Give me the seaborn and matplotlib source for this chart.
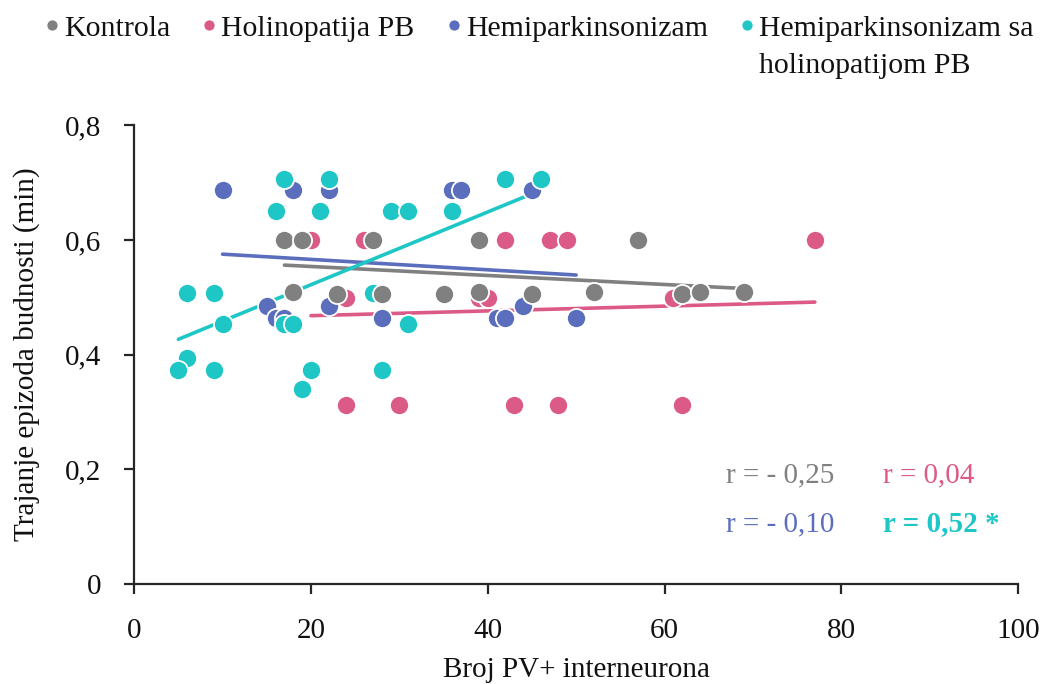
import numpy as np
import pandas as pd
import matplotlib
matplotlib.use("Agg")
import matplotlib.pyplot as plt
from matplotlib.lines import Line2D
from matplotlib.ticker import FuncFormatter
import seaborn as sns

# Group names
groups = ["Kontrola", "Holinopatija PB", "Hemiparkinsonizam",
          "Hemiparkinsonizam sa holinopatijom PB"]
legend_first_lines = ["Kontrola", "Holinopatija PB", "Hemiparkinsonizam",
                      "Hemiparkinsonizam sa"]
legend_second_line = "holinopatijom PB"

# Broj PV+ interneurona (x) and trajanje epizoda budnosti in min (y)
kontrola_x = [17, 19, 27, 39, 57, 18, 23, 28, 35, 39, 45, 52, 62, 64, 69]
kontrola_y = [0.60, 0.60, 0.60, 0.60, 0.60, 0.51, 0.505, 0.505, 0.505, 0.51,
              0.505, 0.51, 0.505, 0.51, 0.51]

holin_x = [20, 26, 42, 47, 49, 77, 24, 39, 40, 61, 24, 30, 43, 48, 62]
holin_y = [0.60, 0.60, 0.60, 0.60, 0.60, 0.60, 0.498, 0.498, 0.498, 0.498,
           0.313, 0.313, 0.313, 0.313, 0.313]

hemi_x = [10, 18, 22, 36, 37, 45, 15, 22, 44, 16, 17, 28, 41, 42, 50]
hemi_y = [0.687, 0.687, 0.687, 0.687, 0.687, 0.687, 0.485, 0.485, 0.485,
          0.464, 0.464, 0.464, 0.464, 0.464, 0.464]

hemi_holin_x = [17, 22, 42, 46, 16, 21, 29, 31, 36, 6, 9, 27, 10, 17, 18, 31,
                6, 5, 9, 20, 28, 19]
hemi_holin_y = [0.707, 0.707, 0.707, 0.707, 0.65, 0.65, 0.65, 0.65, 0.65,
                0.508, 0.508, 0.508, 0.453, 0.453, 0.453, 0.453,
                0.394, 0.373, 0.373, 0.373, 0.373, 0.34]

# Pearson coefficients shown on the chart
r_labels = ["r = - 0,25", "r = 0,04", "r = - 0,10", "r = 0,52 *"]

colors = {"Kontrola": "#808080", "Holinopatija PB": "#db5a87",
          "Hemiparkinsonizam": "#5b6ebd",
          "Hemiparkinsonizam sa holinopatijom PB": "#1ec6c6"}

data = {
    "Kontrola": (kontrola_x, kontrola_y),
    "Holinopatija PB": (holin_x, holin_y),
    "Hemiparkinsonizam": (hemi_x, hemi_y),
    "Hemiparkinsonizam sa holinopatijom PB": (hemi_holin_x, hemi_holin_y),
}
frames = [pd.DataFrame({"x": xs, "y": ys, "grupa": g}) for g, (xs, ys) in data.items()]
df = pd.concat(frames, ignore_index=True)

sns.set_theme(style="ticks")
plt.rcParams["font.family"] = ["Liberation Serif", "DejaVu Serif"]

FS = 21
LEG_FS = 21.5
TXT = "#111111"

fig = plt.figure(figsize=(10.4, 6.84), dpi=100)
ax = fig.add_axes([0.129, 0.146, 0.850, 0.671])

# Regression lines under the markers
for g in groups:
    sub = df[df["grupa"] == g]
    sns.regplot(data=sub, x="x", y="y", ax=ax, scatter=False, ci=None,
                truncate=True, color=colors[g],
                line_kws={"linewidth": 2.6, "zorder": 2})

# Markers, drawn so that the control group ends up on top
draw_order = ["Holinopatija PB", "Hemiparkinsonizam",
              "Hemiparkinsonizam sa holinopatijom PB", "Kontrola"]
for i, g in enumerate(draw_order):
    sub = df[df["grupa"] == g]
    sns.scatterplot(data=sub, x="x", y="y", ax=ax, color=colors[g], s=190,
                    edgecolor="white", linewidth=1.3, legend=False,
                    zorder=3 + i)

ax.set_xlim(0, 100)
ax.set_ylim(0, 0.8)
ax.set_xticks(np.arange(0, 101, 20))
ax.set_yticks(np.arange(0, 0.81, 0.2))
ax.yaxis.set_major_formatter(FuncFormatter(
    lambda v, p: "0" if abs(v) < 1e-9 else f"{v:.1f}".replace(".", ",")))
ax.tick_params(axis="both", labelsize=FS, length=7.5, width=1.6,
               color="#262626", labelcolor=TXT, direction="out")
ax.tick_params(axis="x", pad=17)
ax.tick_params(axis="y", pad=16)
for side in ("top", "right"):
    ax.spines[side].set_visible(False)
for side in ("left", "bottom"):
    ax.spines[side].set_linewidth(1.6)
    ax.spines[side].set_color("#262626")

ax.set_xlabel("Broj PV+ interneurona", fontsize=FS, color=TXT, labelpad=9)
ax.set_ylabel("Trajanje epizoda budnosti (min)", fontsize=FS, color=TXT,
              labelpad=18)

# Correlation coefficients
r_pos = [(67.0, 0.19), (84.7, 0.19), (67.0, 0.105), (84.7, 0.105)]
for (tx, ty), lab, g in zip(r_pos, r_labels, groups):
    ax.text(tx, ty, lab, fontsize=FS, color=colors[g], va="center", ha="left",
            fontweight="bold" if "*" in lab else "normal")

handles = [Line2D([], [], marker="o", linestyle="", markersize=8,
                  markerfacecolor=colors[g], markeredgecolor="white",
                  markeredgewidth=0.6) for g in groups]
leg = fig.legend(handles, legend_first_lines, loc="upper left",
                 bbox_to_anchor=(0.043, 0.978), ncol=4, frameon=False,
                 fontsize=LEG_FS, handletextpad=0.15, columnspacing=1.06,
                 handlelength=0.5, borderpad=0, borderaxespad=0,
                 labelcolor=TXT)

# Second line of the last legend label, aligned under its first line
fig.canvas.draw()
last = leg.get_texts()[-1]
bb = last.get_window_extent(renderer=fig.canvas.get_renderer())
fx, fy = fig.transFigure.inverted().transform((bb.x0, bb.y0))
fig.text(fx, fy - 37 / 684, legend_second_line, fontsize=LEG_FS, color=TXT,
         ha="left", va="bottom")

fig.savefig("out.png", dpi=100)
